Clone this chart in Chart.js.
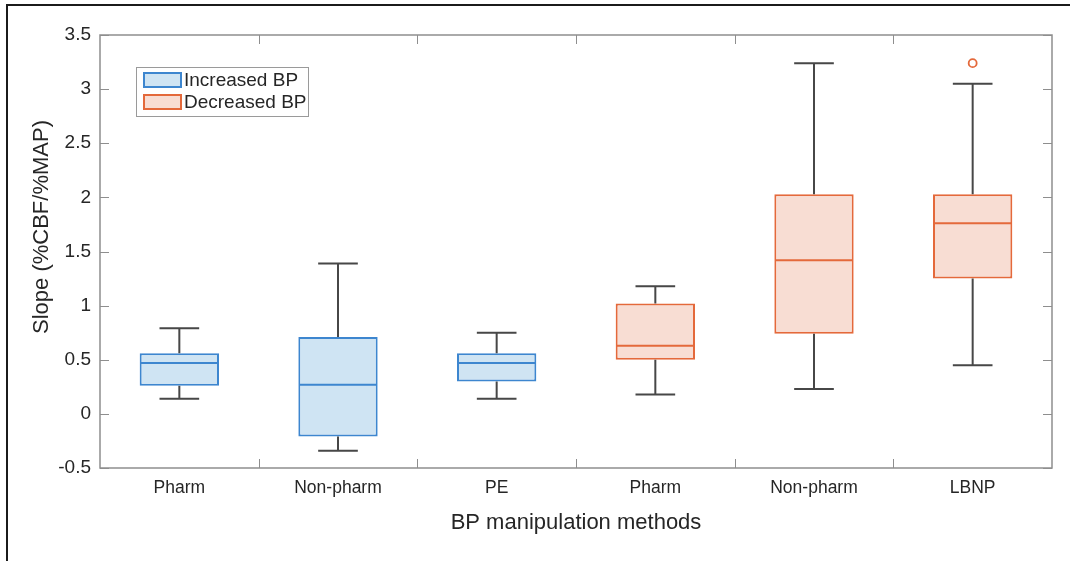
<!DOCTYPE html>
<html>
<head>
<meta charset="utf-8">
<script src="https://cdn.jsdelivr.net/npm/chart.js@4"></script>
<style>
  html, body { margin: 0; padding: 0; background: #fff; overflow: hidden; }
  #wrap { position: absolute; left: 0; top: 0; width: 1070px; height: 561px; }
  #frame { position: absolute; left: 6px; top: 4px; width: 1100px; height: 600px;
           border-top: 2px solid #1b1b1b; border-left: 2px solid #1b1b1b; pointer-events: none; }
</style>
</head>
<body>
<div id="wrap"><canvas id="chart"></canvas></div>
<div id="frame"></div>
<script>
const categories = ["Pharm", "Non-pharm", "PE", "Pharm", "Non-pharm", "LBNP"];
const groupLabels = ["Increased BP", "Decreased BP"];
const groupOf = [0, 0, 0, 1, 1, 1];
const whiskerLow = [0.14, -0.34, 0.14, 0.18, 0.23, 0.45];
const q1 = [0.26, -0.21, 0.30, 0.50, 0.74, 1.25];
const median = [0.47, 0.27, 0.47, 0.63, 1.42, 1.76];
const q3 = [0.56, 0.71, 0.56, 1.02, 2.03, 2.03];
const whiskerHigh = [0.79, 1.39, 0.75, 1.18, 3.24, 3.05];
const outliers = [null, null, null, null, null, 3.24];

const edgeColours = ["#3d86cf", "#e4693b"];
const fillColours = ["#cfe4f3", "#f8ddd3"];
const whiskerColour = "#474747";
const axisColour = "#8e8e8e";
const textColour = "#262626";
const fontFamily = "'Liberation Sans', Arial, Helvetica, sans-serif";

function boxData(g) {
  return categories.map((c, i) => (groupOf[i] === g ? [q1[i], q3[i]] : null));
}

const datasets = groupLabels.map((label, g) => ({
  type: "bar",
  label: label,
  data: boxData(g),
  backgroundColor: fillColours[g],
  borderColor: edgeColours[g],
  borderWidth: 2,
  borderSkipped: false,
  grouped: false,
  barPercentage: 0.5,
  categoryPercentage: 1,
}));
datasets.push({
  type: "line",
  label: "Outliers",
  data: outliers,
  showLine: false,
  pointStyle: "circle",
  pointRadius: 4,
  pointBorderWidth: 1.8,
  pointBorderColor: edgeColours[1],
  pointBackgroundColor: "#fff",
});

const boxExtras = {
  id: "boxExtras",
  afterDatasetsDraw(chart) {
    const { ctx, scales: { x, y } } = chart;
    ctx.save();
    categories.forEach((c, i) => {
      const g = groupOf[i];
      const bar = chart.getDatasetMeta(g).data[i];
      const cx = x.getPixelForValue(i);
      const half = bar.width / 2;
      const cap = half / 2;
      ctx.lineWidth = 2;
      ctx.strokeStyle = whiskerColour;
      ctx.beginPath();
      ctx.moveTo(cx, y.getPixelForValue(q3[i]));
      ctx.lineTo(cx, y.getPixelForValue(whiskerHigh[i]));
      ctx.moveTo(cx - cap, y.getPixelForValue(whiskerHigh[i]));
      ctx.lineTo(cx + cap, y.getPixelForValue(whiskerHigh[i]));
      ctx.moveTo(cx, y.getPixelForValue(q1[i]));
      ctx.lineTo(cx, y.getPixelForValue(whiskerLow[i]));
      ctx.moveTo(cx - cap, y.getPixelForValue(whiskerLow[i]));
      ctx.lineTo(cx + cap, y.getPixelForValue(whiskerLow[i]));
      ctx.stroke();
      ctx.strokeStyle = edgeColours[g];
      ctx.beginPath();
      ctx.moveTo(cx - half + 1, y.getPixelForValue(median[i]));
      ctx.lineTo(cx + half - 1, y.getPixelForValue(median[i]));
      ctx.stroke();
    });
    ctx.restore();
  },
  afterDraw(chart) {
    const { ctx, chartArea: a, scales: { x, y } } = chart;
    ctx.save();
    // axes box and inward ticks
    ctx.strokeStyle = axisColour;
    ctx.lineWidth = 1.5;
    ctx.strokeRect(a.left, a.top, a.right - a.left, a.bottom - a.top);
    ctx.lineWidth = 1;
    ctx.beginPath();
    y.ticks.forEach((t) => {
      const py = Math.round(y.getPixelForValue(t.value)) + 0.5;
      ctx.moveTo(a.left, py); ctx.lineTo(a.left + 9, py);
      ctx.moveTo(a.right, py); ctx.lineTo(a.right - 9, py);
    });
    for (let i = 0; i < categories.length - 1; i++) {
      const px = Math.round((x.getPixelForValue(i) + x.getPixelForValue(i + 1)) / 2) + 0.5;
      ctx.moveTo(px, a.bottom); ctx.lineTo(px, a.bottom - 9);
      ctx.moveTo(px, a.top); ctx.lineTo(px, a.top + 9);
    }
    ctx.stroke();

    // axis titles
    ctx.fillStyle = textColour;
    ctx.font = "22px " + fontFamily;
    ctx.textAlign = "center";
    ctx.textBaseline = "middle";
    ctx.fillText("BP manipulation methods", (a.left + a.right) / 2, 523);
    ctx.save();
    ctx.translate(42, 227);
    ctx.rotate(-Math.PI / 2);
    ctx.fillText("Slope (%CBF/%MAP)", 0, 0);
    ctx.restore();

    // legend
    const lx = a.left + 36, ly = a.top + 32, lw = 172, lh = 49;
    ctx.fillStyle = "#fff";
    ctx.fillRect(lx, ly, lw, lh);
    ctx.strokeStyle = "#9a9a9a";
    ctx.lineWidth = 1;
    ctx.strokeRect(lx + 0.5, ly + 0.5, lw, lh);
    ctx.font = "19px " + fontFamily;
    ctx.textAlign = "left";
    groupLabels.forEach((label, g) => {
      const cy = ly + 13 + g * 22;
      ctx.fillStyle = fillColours[g];
      ctx.fillRect(lx + 8, cy - 7, 37, 14);
      ctx.strokeStyle = edgeColours[g];
      ctx.lineWidth = 2;
      ctx.strokeRect(lx + 8, cy - 7, 37, 14);
      ctx.fillStyle = textColour;
      ctx.fillText(label, lx + 48, cy + 1);
    });
    ctx.restore();
  },
};

new Chart(document.getElementById("chart"), {
  type: "bar",
  data: { labels: categories, datasets: datasets },
  options: {
    responsive: true,
    maintainAspectRatio: false,
    animation: false,
    layout: { padding: { left: 0, top: 35, right: 18, bottom: 0 } },
    plugins: { legend: { display: false }, tooltip: { enabled: false } },
    scales: {
      x: {
        offset: true,
        grid: { display: false, drawTicks: false },
        border: { display: false },
        ticks: { color: textColour, font: { family: fontFamily, size: 17.5 }, padding: 10, autoSkip: false, maxRotation: 0 },
        afterFit: (scale) => { scale.height = 93; },
      },
      y: {
        min: -0.5,
        max: 3.5,
        grid: { display: false, drawTicks: false },
        border: { display: false },
        ticks: {
          stepSize: 0.5,
          color: textColour,
          font: { family: fontFamily, size: 19 },
          padding: 9,
          callback: (v) => String(Math.round(v * 10) / 10),
        },
        afterFit: (scale) => { scale.width = 100; },
      },
    },
  },
  plugins: [boxExtras],
});
</script>
</body>
</html>
